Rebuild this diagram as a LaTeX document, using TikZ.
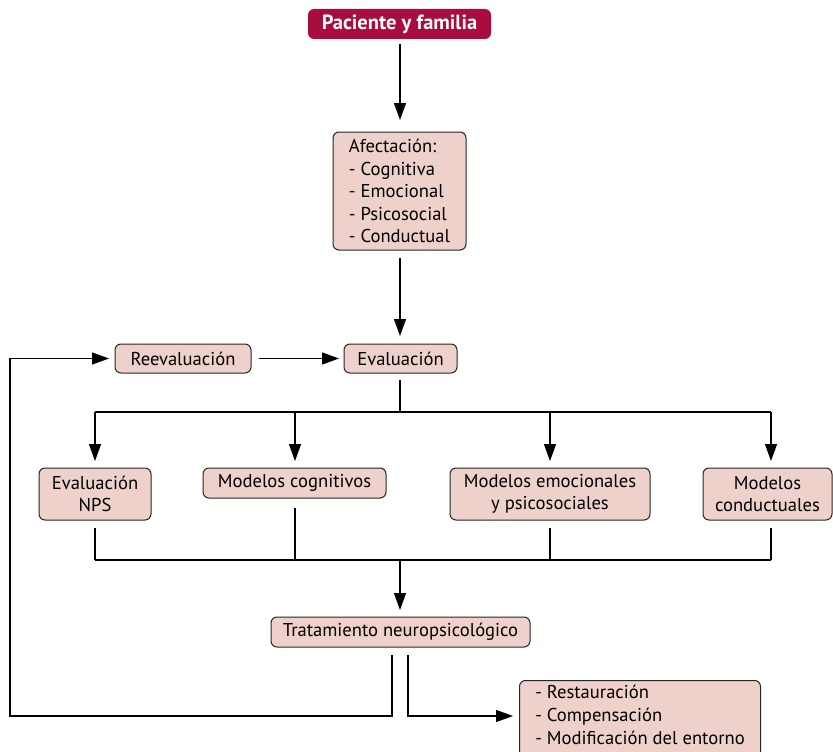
\documentclass[tikz,border=0pt]{standalone}
\usepackage{fontspec}
\setmainfont{PT Sans}
\usetikzlibrary{arrows.meta}
\definecolor{boxfill}{HTML}{EFD1CB}
\definecolor{topred}{HTML}{A80D3D}
\tikzset{
  x=1pt,y=-1pt,
  box/.style={draw=black!85,line width=1pt,fill=boxfill,rounded corners=6pt,inner sep=0pt,
    font=\fontsize{18.6}{22}\selectfont,align=center},
  topbox/.style={fill=topred,rounded corners=6pt,inner sep=0pt,text=white,
    font=\fontsize{20.5}{24}\selectfont\bfseries},
  conn/.style={line width=1.2pt,draw=black},
  arr/.style={conn,-{Triangle[length=17pt,width=12pt]}},
}
\begin{document}
\begin{tikzpicture}
\clip (0,0) rectangle (833,752);
\fill[white] (0,0) rectangle (833,752);
% nodes
\node[topbox,minimum width=183pt,minimum height=30pt] (pf) at (399.5,24) {Paciente y familia};
\node[box,minimum width=133pt,minimum height=118pt,align=left,font=\fontsize{18.6}{22.5}\selectfont] (af) at (399.5,191)
  {Afectación:\\- Cognitiva\\- Emocional\\- Psicosocial\\- Conductual};
\node[box,minimum width=113pt,minimum height=29pt] (ev) at (400.5,358.5) {Evaluación};
\node[box,minimum width=136pt,minimum height=29pt] (re) at (183,358.5) {Reevaluación};
\node[box,minimum width=112pt,minimum height=52pt] (nps) at (95,494) {Evaluación\\NPS};
\node[box,minimum width=183pt,minimum height=30pt] (cog) at (294.5,483) {Modelos cognitivos};
\node[box,minimum width=200pt,minimum height=52pt] (emo) at (550,494) {Modelos emocionales\\y psicosociales};
\node[box,minimum width=129pt,minimum height=52pt] (con) at (767.5,494) {Modelos\\conductuales};
\node[box,minimum width=259pt,minimum height=30pt] (tr) at (400.5,632) {Tratamiento neuropsicológico};
\node[box,minimum width=241pt,inner ysep=5pt,align=left,anchor=north west,font=\fontsize{18.6}{23}\selectfont] (out) at (519,680)
  {- Restauración\\- Compensación\\- Modificación del entorno\\[2pt]};
% coordinates
\coordinate (evd) at (400,412);
\coordinate (h1) at (95,412);
\coordinate (h2) at (295,412);
\coordinate (h3) at (550,412);
\coordinate (h4) at (771,412);
\coordinate (j1) at (95,560);
\coordinate (j2) at (295,560);
\coordinate (j3) at (550,560);
\coordinate (j4) at (771,560);
\coordinate (jm) at (400,560);
\coordinate (la) at (392,655);
\coordinate (lb) at (392,716);
\coordinate (lc) at (10,716);
\coordinate (ld) at (10,358.5);
\coordinate (ra) at (408,655);
\coordinate (rb) at (408,716);
% connectors
\draw[arr] (400,44) -- (400,120);
\draw[arr] (400,258) -- (400,336);
\draw[arr] (259,358.5) -- (339,358.5);
\draw[conn] (400,380) -- (evd);
\draw[conn] (h1) -- (h4);
\draw[arr] (h1) -- (95,461);
\draw[arr] (h2) -- (295,461);
\draw[arr] (h3) -- (550,461);
\draw[arr] (h4) -- (771,461);
\draw[conn] (95,528) -- (j1);
\draw[conn] (295,508) -- (j2);
\draw[conn] (550,528) -- (j3);
\draw[conn] (771,528) -- (j4);
\draw[conn] (j1) -- (j4);
\draw[arr] (jm) -- (400,610);
\draw[arr] (la) -- (lb) -- (lc) -- (ld) -- (109,358.5);
\draw[arr] (ra) -- (rb) -- (513,716);
\end{tikzpicture}
\end{document}
